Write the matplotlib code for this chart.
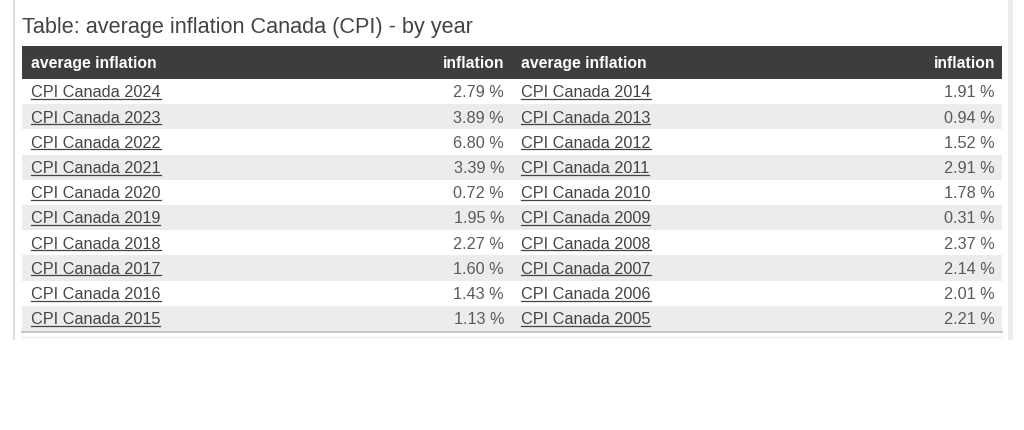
import matplotlib.pyplot as plt
from matplotlib.patches import Rectangle

plt.rcParams['font.family'] = ['Liberation Sans', 'DejaVu Sans']

title = "Table: average inflation Canada (CPI) - by year"
headers = ["average inflation", "inflation", "average inflation", "inflation"]
years_left = [2024, 2023, 2022, 2021, 2020, 2019, 2018, 2017, 2016, 2015]
infl_left = [2.79, 3.89, 6.80, 3.39, 0.72, 1.95, 2.27, 1.60, 1.43, 1.13]
years_right = [2014, 2013, 2012, 2011, 2010, 2009, 2008, 2007, 2006, 2005]
infl_right = [1.91, 0.94, 1.52, 2.91, 1.78, 0.31, 2.37, 2.14, 2.01, 2.21]

W, H = 1024, 431
fig = plt.figure(figsize=(W / 100, H / 100), dpi=100)
ax = fig.add_axes([0, 0, 1, 1])
ax.set_xlim(0, W)
ax.set_ylim(H, 0)
ax.axis('off')

# page frame lines
ax.add_patch(Rectangle((13, 0), 2, 341, color='#dcdcdc', lw=0))
ax.add_patch(Rectangle((1008, 0), 5, 341, color='#ececec', lw=0))

ax.text(22, 33, title, fontsize=15.6, color='#444444', va='baseline', ha='left')

left, mid, right = 22, 512, 1002
head_top, head_bot = 46.5, 80
row_h = 25.2
pad = 9

ax.add_patch(Rectangle((left, head_top), right - left, head_bot - head_top, color='#3d3d3d', lw=0))
hy = 68
hkw = dict(color='white', fontsize=11.3, fontweight='bold', va='baseline')
ax.text(left + pad, hy, headers[0], **hkw)
ax.text(mid - 8, hy, headers[1], ha='right', **hkw)
ax.text(mid + pad, hy, headers[2], **hkw)
ax.text(right - 7, hy, headers[3], ha='right', **hkw)

links = []
for i in range(len(years_left)):
    y0 = head_bot + i * row_h
    bg = '#ffffff' if i % 2 == 0 else '#ececec'
    ax.add_patch(Rectangle((left, y0), right - left, row_h, color=bg, lw=0))
    by = y0 + 17.5
    t1 = ax.text(left + pad, by, f"CPI Canada {years_left[i]}", fontsize=11.7, color='#444444', va='baseline')
    ax.text(mid - 8, by, f"{infl_left[i]:.2f} %", fontsize=11.7, color='#5a5a5a', va='baseline', ha='right')
    t2 = ax.text(mid + pad, by, f"CPI Canada {years_right[i]}", fontsize=11.7, color='#444444', va='baseline')
    ax.text(right - 7, by, f"{infl_right[i]:.2f} %", fontsize=11.7, color='#5a5a5a', va='baseline', ha='right')
    links += [(t1, by), (t2, by)]

bottom = head_bot + len(years_left) * row_h
ax.plot([left, right], [bottom + 0.5, bottom + 0.5], color='#c8c8c8', lw=1.5)
ax.plot([left, right], [bottom + 6, bottom + 6], color='#ececec', lw=1.0)

# underline the link texts
fig.canvas.draw()
r = fig.canvas.get_renderer()
inv = ax.transData.inverted()
for t, by in links:
    bb = t.get_window_extent(r)
    (x0, _), (x1, _) = inv.transform([[bb.x0, bb.y0], [bb.x1, bb.y1]])
    ax.plot([x0, x1], [by + 2.5, by + 2.5], color='#444444', lw=0.9)

fig.savefig('out.png', dpi=100)
